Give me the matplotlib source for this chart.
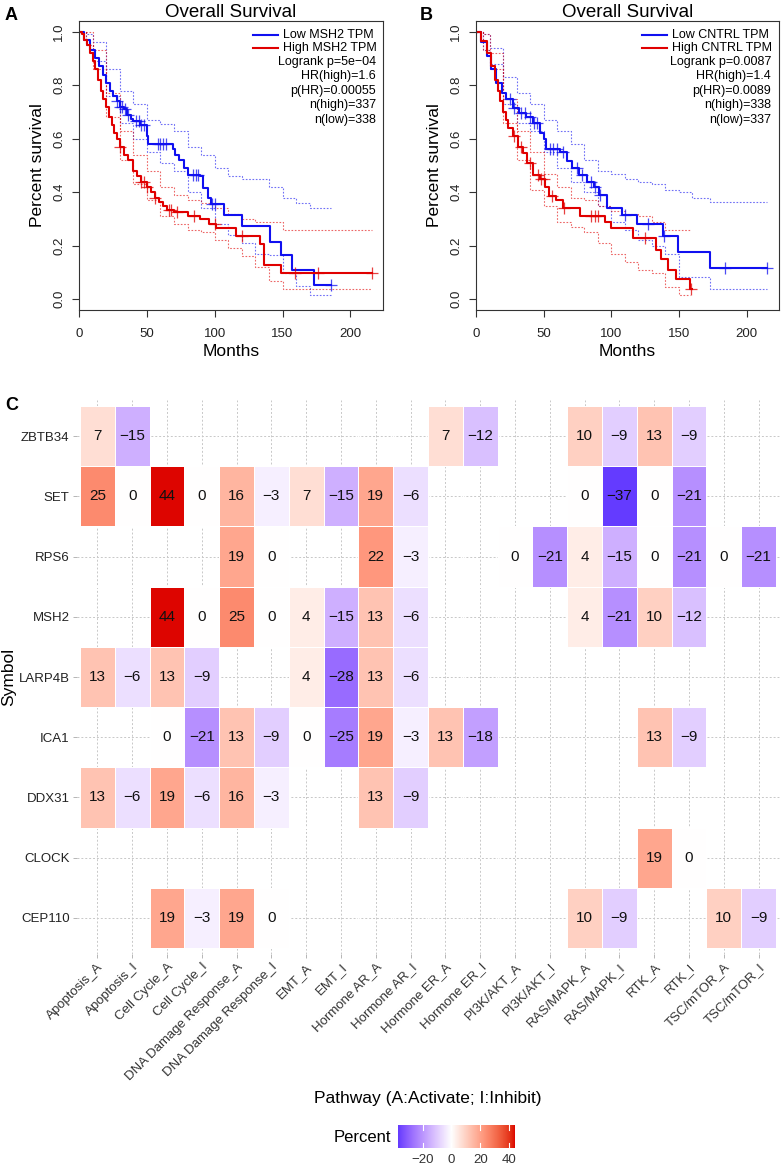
import numpy as np
import matplotlib
matplotlib.use("Agg")
import matplotlib.pyplot as plt
from matplotlib.colors import ListedColormap, Normalize

plt.rcParams['font.family'] = ['Liberation Sans', 'DejaVu Sans']

# ---------------- Survival data ----------------
# Panel A: MSH2
a_low_t = [0, 4, 8, 12, 15, 18, 20, 23, 25, 28, 30, 33, 35, 38, 40, 45, 50, 51, 69, 71, 74, 77, 80, 89, 91, 95, 97, 107, 120, 141, 149, 157, 173, 186]
a_low_s = [1, 0.97, 0.93, 0.9, 0.87, 0.84, 0.81, 0.78, 0.76, 0.74, 0.72, 0.71, 0.69, 0.675, 0.665, 0.65, 0.61, 0.58, 0.56, 0.54, 0.52, 0.49, 0.465, 0.46, 0.415, 0.38, 0.355, 0.315, 0.275, 0.215, 0.165, 0.11, 0.055, 0.055]
a_low_cens = [28, 30, 32, 34, 36, 42, 44, 46, 48, 58, 60, 62, 64, 84, 86, 88, 98, 100, 186]
a_low_ci_t = [0, 5, 10, 20, 30, 40, 50, 60, 70, 80, 90, 100, 110, 120, 130, 140, 150, 160, 170, 186]
a_low_ci_up = [1, 0.99, 0.96, 0.86, 0.78, 0.73, 0.67, 0.655, 0.63, 0.57, 0.54, 0.49, 0.46, 0.45, 0.45, 0.42, 0.38, 0.36, 0.34, 0.34]
a_low_ci_lo = [1, 0.95, 0.89, 0.76, 0.66, 0.60, 0.55, 0.51, 0.48, 0.40, 0.34, 0.28, 0.24, 0.21, 0.17, 0.165, 0.10, 0.05, 0.015, 0.015]

a_high_t = [0, 2, 4, 6, 8, 10, 12, 14, 16, 18, 20, 22, 24, 26, 28, 30, 33, 36, 40, 43, 46, 50, 53, 56, 59, 62, 65, 70, 80, 89, 96, 101, 116, 133, 136, 149, 216]
a_high_s = [1, 0.99, 0.97, 0.95, 0.92, 0.89, 0.86, 0.82, 0.78, 0.75, 0.72, 0.68, 0.65, 0.62, 0.60, 0.57, 0.54, 0.52, 0.48, 0.46, 0.44, 0.42, 0.40, 0.38, 0.365, 0.35, 0.335, 0.325, 0.31, 0.30, 0.28, 0.265, 0.235, 0.205, 0.13, 0.10, 0.10]
a_high_cens = [30, 46, 48, 50, 56, 66, 68, 72, 85, 100, 120, 159, 176, 216]
a_high_ci_t = [0, 5, 10, 20, 30, 40, 50, 60, 70, 80, 90, 100, 110, 120, 130, 140, 150, 216]
a_high_ci_up = [1, 1.0, 0.93, 0.77, 0.63, 0.54, 0.48, 0.42, 0.39, 0.37, 0.36, 0.34, 0.32, 0.30, 0.29, 0.29, 0.26, 0.26]
a_high_ci_lo = [1, 0.95, 0.86, 0.68, 0.52, 0.43, 0.37, 0.31, 0.28, 0.26, 0.25, 0.22, 0.19, 0.16, 0.12, 0.07, 0.04, 0.04]

# Panel B: CNTRL
b_low_t = [0, 4, 8, 11, 15, 19, 22, 27, 32, 37, 42, 47, 50, 52, 62, 67, 71, 76, 82, 87, 91, 97, 108, 119, 138, 149, 173, 215]
b_low_s = [1, 0.96, 0.91, 0.86, 0.81, 0.77, 0.75, 0.715, 0.695, 0.68, 0.66, 0.62, 0.60, 0.56, 0.55, 0.515, 0.49, 0.465, 0.44, 0.42, 0.39, 0.34, 0.315, 0.28, 0.235, 0.175, 0.1175, 0.1175]
b_low_cens = [25, 28, 33, 36, 40, 43, 45, 55, 57, 60, 64, 75, 78, 85, 88, 92, 110, 127, 139, 184, 215]
b_low_ci_t = [0, 5, 10, 20, 30, 40, 50, 60, 70, 80, 90, 100, 110, 120, 130, 140, 150, 160, 173, 215]
b_low_ci_up = [1, 0.99, 0.94, 0.83, 0.77, 0.73, 0.67, 0.63, 0.58, 0.52, 0.48, 0.47, 0.45, 0.44, 0.43, 0.41, 0.40, 0.38, 0.365, 0.365]
b_low_ci_lo = [1, 0.93, 0.88, 0.73, 0.66, 0.63, 0.55, 0.49, 0.44, 0.40, 0.35, 0.29, 0.26, 0.22, 0.20, 0.17, 0.085, 0.085, 0.04, 0.04]

b_high_t = [0, 4, 8, 11, 14, 16, 18, 20, 22, 24, 27, 31, 35, 38, 42, 47, 51, 54, 59, 64, 77, 95, 100, 116, 133, 137, 142, 148, 158, 160]
b_high_s = [1, 0.965, 0.92, 0.87, 0.82, 0.78, 0.74, 0.70, 0.67, 0.64, 0.61, 0.57, 0.545, 0.51, 0.465, 0.45, 0.42, 0.385, 0.37, 0.34, 0.31, 0.29, 0.265, 0.23, 0.185, 0.15, 0.11, 0.075, 0.04, 0.04]
b_high_cens = [28, 33, 40, 46, 48, 50, 56, 65, 85, 88, 90, 125, 159]
b_high_ci_t = [0, 5, 10, 20, 30, 40, 50, 60, 70, 80, 90, 100, 110, 120, 130, 140, 150, 158]
b_high_ci_up = [1, 0.99, 0.92, 0.75, 0.63, 0.55, 0.47, 0.42, 0.38, 0.37, 0.35, 0.33, 0.32, 0.31, 0.29, 0.26, 0.26, 0.26]
b_high_ci_lo = [1, 0.93, 0.86, 0.66, 0.52, 0.41, 0.35, 0.29, 0.27, 0.25, 0.21, 0.17, 0.14, 0.11, 0.10, 0.045, 0.015, 0.015]

a_labels = ["Low MSH2 TPM", "High MSH2 TPM"]
a_stats = ["Logrank p=5e\u221204", "HR(high)=1.6", "p(HR)=0.00055", "n(high)=337", "n(low)=338"]
b_labels = ["Low CNTRL TPM", "High CNTRL TPM"]
b_stats = ["Logrank p=0.0087", "HR(high)=1.4", "p(HR)=0.0089", "n(high)=338", "n(low)=337"]

# ---------------- Heatmap data ----------------
symbols = ["ZBTB34", "SET", "RPS6", "MSH2", "LARP4B", "ICA1", "DDX31", "CLOCK", "CEP110"]
pathways = ["Apoptosis_A", "Apoptosis_I", "Cell Cycle_A", "Cell Cycle_I",
            "DNA Damage Response_A", "DNA Damage Response_I", "EMT_A", "EMT_I",
            "Hormone AR_A", "Hormone AR_I", "Hormone ER_A", "Hormone ER_I",
            "PI3K/AKT_A", "PI3K/AKT_I", "RAS/MAPK_A", "RAS/MAPK_I",
            "RTK_A", "RTK_I", "TSC/mTOR_A", "TSC/mTOR_I"]
N = None
vals_ZBTB34 = [7, -15, N, N, N, N, N, N, N, N, 7, -12, N, N, 10, -9, 13, -9, N, N]
vals_SET    = [25, 0, 44, 0, 16, -3, 7, -15, 19, -6, N, N, N, N, 0, -37, 0, -21, N, N]
vals_RPS6   = [N, N, N, N, 19, 0, N, N, 22, -3, N, N, 0, -21, 4, -15, 0, -21, 0, -21]
vals_MSH2   = [N, N, 44, 0, 25, 0, 4, -15, 13, -6, N, N, N, N, 4, -21, 10, -12, N, N]
vals_LARP4B = [13, -6, 13, -9, N, N, 4, -28, 13, -6, N, N, N, N, N, N, N, N, N, N]
vals_ICA1   = [N, N, 0, -21, 13, -9, 0, -25, 19, -3, 13, -18, N, N, N, N, 13, -9, N, N]
vals_DDX31  = [13, -6, 19, -6, 16, -3, N, N, 13, -9, N, N, N, N, N, N, N, N, N, N]
vals_CLOCK  = [N, N, N, N, N, N, N, N, N, N, N, N, N, N, N, N, 19, 0, N, N]
vals_CEP110 = [N, N, 19, -3, 19, 0, N, N, N, N, N, N, N, N, 10, -9, N, N, 10, -9]
cbar_ticks = [-20, 0, 20, 40]

# ---------------- helpers ----------------
def srgb_to_lab(rgb):
    rgb = np.asarray(rgb, float)
    lin = np.where(rgb <= 0.04045, rgb / 12.92, ((rgb + 0.055) / 1.055) ** 2.4)
    M = np.array([[0.4124, 0.3576, 0.1805], [0.2126, 0.7152, 0.0722], [0.0193, 0.1192, 0.9505]])
    xyz = M @ lin
    wp = np.array([0.95047, 1.0, 1.08883])
    r = xyz / wp
    f = np.where(r > 0.008856, np.cbrt(r), 7.787 * r + 16 / 116)
    return np.array([116 * f[1] - 16, 500 * (f[0] - f[1]), 200 * (f[1] - f[2])])

def lab_to_srgb(lab):
    L, a, b = lab
    fy = (L + 16) / 116
    fx = fy + a / 500
    fz = fy - b / 200
    f = np.array([fx, fy, fz])
    r = np.where(f ** 3 > 0.008856, f ** 3, (f - 16 / 116) / 7.787)
    xyz = r * np.array([0.95047, 1.0, 1.08883])
    Minv = np.array([[3.2406, -1.5372, -0.4986], [-0.9689, 1.8758, 0.0415], [0.0557, -0.2040, 1.0570]])
    lin = Minv @ xyz
    lin = np.clip(lin, 0, 1)
    rgb = np.where(lin <= 0.0031308, 12.92 * lin, 1.055 * lin ** (1 / 2.4) - 0.055)
    return np.clip(rgb, 0, 1)

low_lab = srgb_to_lab([0, 0, 1])
mid_lab = srgb_to_lab([1, 1, 1])
high_lab = srgb_to_lab([0xDD / 255, 0.02, 0.0])
cols = []
for t in np.linspace(0, 1, 256):
    if t < 0.5:
        u = t / 0.5
        lab = low_lab + (mid_lab - low_lab) * u
    else:
        u = (t - 0.5) / 0.5
        lab = mid_lab + (high_lab - mid_lab) * u
    cols.append(lab_to_srgb(lab))
cmap = ListedColormap(cols)
norm = Normalize(-44, 44)

BLUE = '#1010F0'
RED = '#E00000'

def km_value(t, s, x):
    idx = np.searchsorted(np.asarray(t), np.asarray(x), side='right') - 1
    idx = np.clip(idx, 0, len(s) - 1)
    return np.asarray(s)[idx]

def surv_panel(ax, curves, labels, stats, leg_x0, leg_x1, txt_x, right_x):
    for (t, s, cens, ct, cu, cl, col) in curves:
        ax.step(ct, cu, where='post', color=col, lw=0.8, ls=(0, (1.5, 1.5)), alpha=0.6)
        ax.step(ct, cl, where='post', color=col, lw=0.8, ls=(0, (1.5, 1.5)), alpha=0.6)
    for (t, s, cens, ct, cu, cl, col) in curves:
        ax.step(t, s, where='post', color=col, lw=1.5)
        ax.plot(cens, km_value(t, s, cens), ls='none', marker='+', ms=8, mew=0.9, color=col, alpha=0.75)
    ax.set_xlim(0, 224)
    ax.set_ylim(-0.04, 1.04)
    ax.set_xticks([0, 50, 100, 150, 200])
    ax.set_yticks([0.0, 0.2, 0.4, 0.6, 0.8, 1.0])
    ax.set_yticklabels(["0.0", "0.2", "0.4", "0.6", "0.8", "1.0"], rotation=90, va='center')
    ax.tick_params(labelsize=9.5, length=5, width=0.8, colors='#333333', labelcolor='#222222')
    ax.tick_params(axis='x', pad=8)
    ax.tick_params(axis='y', pad=5)
    for sp in ax.spines.values():
        sp.set_linewidth(0.8)
        sp.set_color('#333333')
    ax.set_xlabel("Months", fontsize=12.5, labelpad=3)
    ax.set_ylabel("Percent survival", fontsize=12.5, labelpad=6)
    ax.set_title("Overall Survival", fontsize=13.5, pad=2)
    ys = [0.9516, 0.9066]
    for y, lab, col in zip(ys, labels, [BLUE, RED]):
        ax.plot([leg_x0, leg_x1], [y, y], color=col, lw=1.5, transform=ax.transAxes)
        ax.text(txt_x, y, lab, transform=ax.transAxes, fontsize=9, va='center', ha='left')
    for y, st in zip([0.858, 0.808, 0.758, 0.708, 0.658], stats):
        ax.text(right_x, y, st, transform=ax.transAxes, fontsize=9, va='center', ha='right')

W, H = 782, 1166
fig = plt.figure(figsize=(W / 100, H / 100), dpi=100)

axA = fig.add_axes([79 / W, 1 - 310 / H, 304 / W, 289 / H])
surv_panel(axA,
           [(a_low_t, a_low_s, a_low_cens, a_low_ci_t, a_low_ci_up, a_low_ci_lo, BLUE),
            (a_high_t, a_high_s, a_high_cens, a_high_ci_t, a_high_ci_up, a_high_ci_lo, RED)],
           a_labels, a_stats, 0.572, 0.655, 0.671, 0.977)
axB = fig.add_axes([476 / W, 1 - 310 / H, 303 / W, 289 / H])
surv_panel(axB,
           [(b_low_t, b_low_s, b_low_cens, b_low_ci_t, b_low_ci_up, b_low_ci_lo, BLUE),
            (b_high_t, b_high_s, b_high_cens, b_high_ci_t, b_high_ci_up, b_high_ci_lo, RED)],
           b_labels, b_stats, 0.549, 0.632, 0.648, 0.974)

fig.text(5 / W, 1 - 15 / H, "A", fontsize=13, fontweight='bold', va='center', ha='left')
fig.text(420 / W, 1 - 15 / H, "B", fontsize=13, fontweight='bold', va='center', ha='left')
fig.text(5 / W, 1 - 406 / H, "C", fontsize=13, fontweight='bold', va='center', ha='left')

# ---------------- Heatmap ----------------
NARROW = ['Liberation Sans Narrow', 'Liberation Sans', 'DejaVu Sans']
rows = [vals_ZBTB34, vals_SET, vals_RPS6, vals_MSH2, vals_LARP4B, vals_ICA1, vals_DDX31, vals_CLOCK, vals_CEP110]
M = np.array([[np.nan if v is None else v for v in r] for r in rows], float)
nr, nc = M.shape

left_px, right_px, top_px, bot_px = 76.5, 779.5, 400, 954
axC = fig.add_axes([left_px / W, 1 - bot_px / H, (right_px - left_px) / W, (bot_px - top_px) / H])
axC.set_xlim(-0.6, nc - 0.4)
axC.set_ylim(nr - 0.4, -0.6)
for i in range(nr):
    axC.axhline(i, color='#C8C8C8', lw=0.7, ls=(0, (2, 2)), zorder=0)
for j in range(nc):
    axC.axvline(j, color='#C8C8C8', lw=0.7, ls=(0, (2, 2)), zorder=0)
Mm = np.ma.masked_invalid(M)
axC.pcolormesh(np.arange(nc + 1) - 0.5, np.arange(nr + 1) - 0.5, Mm, cmap=cmap, norm=norm,
               edgecolors='white', linewidth=0.5, zorder=1)
for i in range(nr):
    for j in range(nc):
        if not np.isnan(M[i, j]):
            v = int(M[i, j])
            s = ("\u2212%d" % -v) if v < 0 else str(v)
            axC.text(j, i, s, ha='center', va='center', fontsize=11, family=NARROW, color='#111111', zorder=2)
for sp in axC.spines.values():
    sp.set_visible(False)
axC.set_xticks(range(nc))
axC.set_xticklabels(pathways, rotation=45, ha='right', va='top', rotation_mode='anchor',
                    family=NARROW, fontsize=9.5, color='#333333')
axC.set_yticks(range(nr))
axC.set_yticklabels(symbols, family=NARROW, fontsize=9.5, color='#222222')
axC.tick_params(axis='both', length=3, width=0.6, color='#AAAAAA', pad=2)
axC.set_xlabel("Pathway (A:Activate; I:Inhibit)", family=NARROW, fontsize=12.5, labelpad=6)
axC.set_ylabel("Symbol", family=NARROW, fontsize=12.5, labelpad=2)

# colorbar
cax = fig.add_axes([398 / W, 1 - 1148 / H, 117 / W, 23 / H])
grad = np.linspace(-37, 44, 300)[None, :]
cax.imshow(grad, aspect='auto', cmap=cmap, norm=norm, extent=[-37, 44, 0, 1])
cax.set_xlim(-37, 44)
cax.set_ylim(0, 1)
for tk in cbar_ticks:
    cax.plot([tk, tk], [0, 0.2], color='white', lw=0.8)
    cax.plot([tk, tk], [0.8, 1], color='white', lw=0.8)
cax.set_yticks([])
cax.set_xticks(cbar_ticks)
cax.set_xticklabels(["\u221220", "0", "20", "40"], family=NARROW, fontsize=9.5, color='#333333')
cax.tick_params(axis='x', length=0, pad=4)
for sp in cax.spines.values():
    sp.set_visible(False)
fig.text(391 / W, 1 - 1138 / H, "Percent", family=NARROW, fontsize=12, ha='right', va='center')

fig.savefig("out.png", dpi=100)
